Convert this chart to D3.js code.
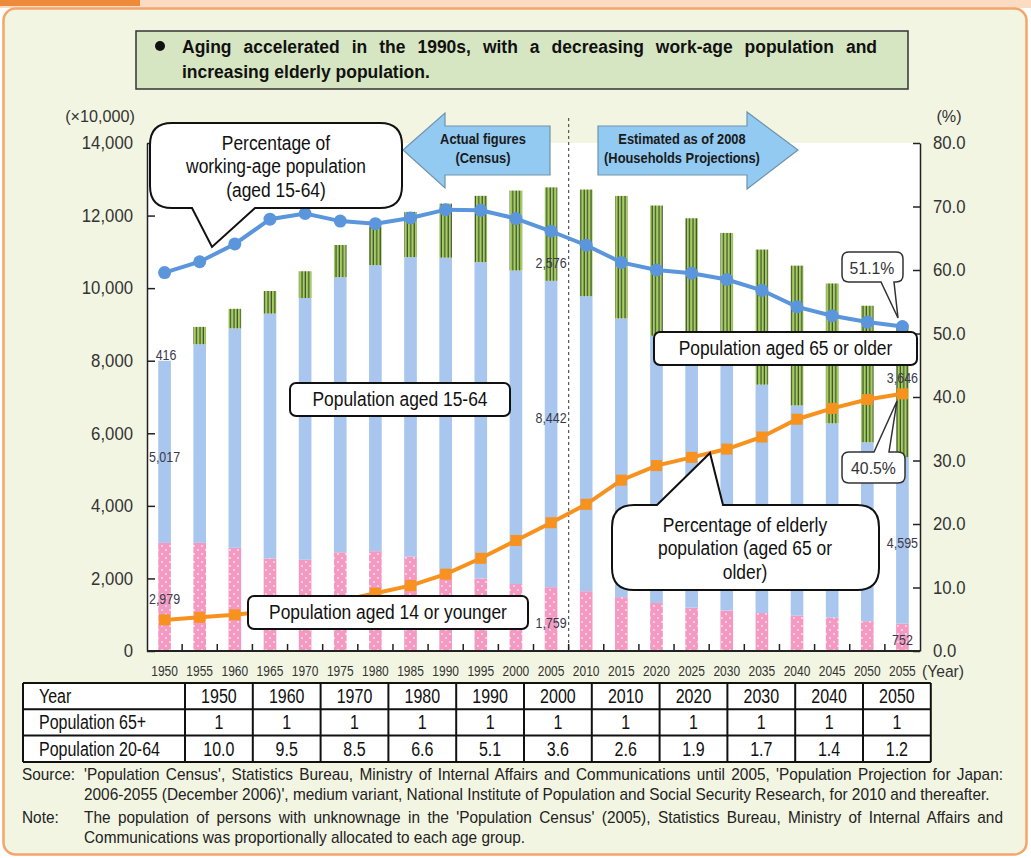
<!DOCTYPE html>
<html>
<head>
<meta charset="utf-8">
<script src="https://cdn.jsdelivr.net/npm/d3@7/dist/d3.min.js"></script>
<style>
  html, body { margin: 0; padding: 0; background: #ffffff; }
  svg { display: block; }
  text { font-family: 'Liberation Sans', Arial, sans-serif; }
</style>
</head>
<body>
<svg id="chart" width="1031" height="858"></svg>
<script>
// Japanese population by age group, 1950-2055 (unit: 10,000 persons)
const years = [1950,1955,1960,1965,1970,1975,1980,1985,1990,1995,2000,2005,
               2010,2015,2020,2025,2030,2035,2040,2045,2050,2055];
const pop0to14 = [2979,2980,2843,2553,2515,2722,2751,2603,2249,2001,1847,1759,
                  1648,1484,1324,1195,1115,1047,980,920,821,752];
const pop15to64 = [5017,5473,6047,6744,7212,7581,7883,8251,8590,8717,8638,8442,
                   8128,7680,7363,7096,6740,6292,5787,5353,4930,4595];
const pop65plus = [416,479,540,624,739,887,1065,1247,1489,1826,2204,2576,
                   2941,3378,3590,3635,3667,3725,3853,3856,3764,3646];
// Shares of total population (%)
const workingAgePct = [59.6,61.3,64.1,68.0,68.9,67.7,67.3,68.2,69.5,69.4,68.1,66.1,
                       63.9,61.2,60.0,59.5,58.5,56.8,54.2,52.8,51.8,51.1];
const elderlyPct = [4.9,5.3,5.7,6.3,7.1,7.9,9.1,10.3,12.1,14.6,17.4,20.2,
                    23.1,26.9,29.2,30.5,31.8,33.7,36.5,38.2,39.6,40.5];
// Axis ticks
const leftTicks = [0,2000,4000,6000,8000,10000,12000,14000];
const rightTicks = [0,10,20,30,40,50,60,70,80];
// Support ratio table
const tableYears = [1950,1960,1970,1980,1990,2000,2010,2020,2030,2040,2050];
const ratio65 = [1,1,1,1,1,1,1,1,1,1,1];
const ratio20to64 = ["10.0","9.5","8.5","6.6","5.1","3.6","2.6","1.9","1.7","1.4","1.2"];
// Bars whose segment values are printed
const labelledYears = [1950, 2005, 2055];

const svg = d3.select("#chart");
const W = 1031, H = 858;
const dark = "#333333";

// horizontally condense text (the layout uses a narrow type face)
function squeeze(sel, k) {
  sel.each(function () {
    const t = d3.select(this);
    const x0 = +t.attr("x") || 0;
    t.attr("transform", `translate(${x0},0) scale(${k},1) translate(${-x0},0)`);
  });
}
// stretch the gaps between words so a condensed line spans `width` pixels
function justify(textSel, k, width) {
  const node = textSel.node();
  const len = node.getComputedTextLength();
  const gaps = (textSel.text().match(/ /g) || []).length;
  if (gaps) textSel.attr("word-spacing", (width / k - len) / gaps);
}

// ---------- panel ----------
svg.append("rect").attr("width", W).attr("height", H).attr("fill", "#ffffff");
svg.append("rect").attr("x", 0).attr("y", 0).attr("width", W).attr("height", 8).attr("fill", "#fbdcc2");
svg.append("rect").attr("x", 0).attr("y", 0).attr("width", 140).attr("height", 6).attr("fill", "#ee8a3c");
svg.append("rect").attr("x", 3.5).attr("y", 8.5).attr("width", 1023).attr("height", 846)
  .attr("rx", 12).attr("fill", "#f2f5e2").attr("stroke", "#f4a56c").attr("stroke-width", 2.5);

// ---------- scales ----------
const plot = {left: 147, right: 920, top: 143, bottom: 651};
const x = d3.scaleBand().domain(years).range([plot.left, plot.right])
  .paddingInner(0.64).paddingOuter(0.32);
const yL = d3.scaleLinear().domain([0, 14000]).range([plot.bottom, plot.top]);
const yR = d3.scaleLinear().domain([0, 80]).range([plot.bottom, plot.top]);
const cx = d => x(d) + x.bandwidth() / 2;

svg.append("rect").attr("x", plot.left).attr("y", plot.top)
  .attr("width", plot.right - plot.left).attr("height", plot.bottom - plot.top).attr("fill", "#ffffff");

// ---------- patterns ----------
const defs = svg.append("defs");
const dots = defs.append("pattern").attr("id", "dots").attr("patternUnits", "userSpaceOnUse")
  .attr("width", 8).attr("height", 8);
dots.append("rect").attr("width", 8).attr("height", 8).attr("fill", "#f49ac2");
dots.append("circle").attr("cx", 2).attr("cy", 2).attr("r", 0.9).attr("fill", "#fde8f1");
dots.append("circle").attr("cx", 6).attr("cy", 6).attr("r", 0.9).attr("fill", "#fde8f1");
const stripes = defs.append("pattern").attr("id", "stripes").attr("patternUnits", "userSpaceOnUse")
  .attr("width", 3.4).attr("height", 10);
stripes.append("rect").attr("width", 3.4).attr("height", 10).attr("fill", "#a5cf5a");
stripes.append("rect").attr("x", 2.2).attr("width", 1.2).attr("height", 10).attr("fill", "#3e4c3c");

// ---------- stacked bars ----------
const rows = years.map((yr, i) => ({year: yr, p0: pop0to14[i], p15: pop15to64[i], p65: pop65plus[i]}));
const stack = d3.stack().keys(["p0", "p15", "p65"])(rows);
const fills = {p0: "url(#dots)", p15: "#a9c6ee", p65: "url(#stripes)"};
svg.append("g").selectAll("g").data(stack).join("g")
  .attr("fill", s => fills[s.key])
  .selectAll("rect").data(s => s).join("rect")
  .attr("x", d => x(d.data.year))
  .attr("width", x.bandwidth())
  .attr("y", d => yL(d[1]))
  .attr("height", d => yL(d[0]) - yL(d[1]));

// ---------- value labels on the first, 2005 and last bars ----------
const seg = (key, year) => stack.find(t => t.key === key)[years.indexOf(year)];
const fmt = d3.format(",");
const labelG = svg.append("g").attr("font-size", 14.5).attr("fill", "#3a3a4a");
// 1950: the 65+ value sits on a white tag over its own segment
{
  const s = seg("p65", 1950);
  labelG.append("rect").attr("x", cx(1950) - 7).attr("y", yL(s[1]) - 1)
    .attr("width", 17).attr("height", yL(s[0]) - yL(s[1]) + 1).attr("fill", "#ffffff");
}
const valueLabels = [];
labelledYears.forEach(yr => {
  const i = years.indexOf(yr);
  const s0 = seg("p0", yr), s15 = seg("p15", yr), s65 = seg("p65", yr);
  // baseline positions for each segment's number
  const pos = {
    1950: [yL(s0[1]) + 61, yL((s15[0] + s15[1]) / 2) + 10, yL(s65[1]) + 14],
    2005: [yL(s0[1]) + 41, yL((s15[0] + s15[1]) / 2) - 11, yL(s65[0]) - 13],
    2055: [yL(s0[1]) + 21, yL((s15[0] + s15[1]) / 2) + 8, yL(s65[1]) + 58]
  }[yr];
  const dx = yr === 1950 ? 1.5 : 0;
  valueLabels.push({x: cx(yr), y: pos[0], t: fmt(pop0to14[i])});
  valueLabels.push({x: cx(yr), y: pos[1], t: fmt(pop15to64[i])});
  valueLabels.push({x: cx(yr) + dx, y: pos[2], t: fmt(pop65plus[i])});
});
labelG.selectAll("text").data(valueLabels).join("text")
  .attr("x", d => d.x).attr("y", d => d.y).attr("text-anchor", "middle").text(d => d.t)
  .call(squeeze, 0.86);

// ---------- dashed separator between census and projection ----------
const sepX = (x(2005) + x(2010) + x.bandwidth()) / 2;
svg.append("line").attr("x1", sepX).attr("x2", sepX).attr("y1", 118).attr("y2", plot.bottom)
  .attr("stroke", "#555").attr("stroke-width", 1.2).attr("stroke-dasharray", "3,3");

// ---------- axes ----------
const axL = svg.append("g").attr("transform", `translate(${plot.left},0)`)
  .call(d3.axisLeft(yL).tickValues(leftTicks).tickFormat(d3.format(",")).tickSizeInner(-8).tickSizeOuter(0).tickPadding(14));
const axR = svg.append("g").attr("transform", `translate(${plot.right},0)`)
  .call(d3.axisRight(yR).tickValues(rightTicks).tickFormat(d3.format(".1f")).tickSizeInner(-7).tickSizeOuter(0).tickPadding(13));
[axL, axR].forEach(a => {
  a.select(".domain").attr("stroke", "#222").attr("stroke-width", 1.5);
  a.selectAll(".tick line").attr("stroke", "#222").attr("stroke-width", 1.5);
  a.selectAll(".tick text").attr("font-size", 18).attr("fill", dark)
    .style("font-family", "'Liberation Sans', Arial, sans-serif").call(squeeze, 0.93);
});
svg.append("text").attr("x", 100).attr("y", 122).attr("text-anchor", "middle")
  .attr("font-size", 17).attr("fill", dark).text("(×10,000)").call(squeeze, 0.95);
svg.append("text").attr("x", 949).attr("y", 122).attr("text-anchor", "middle")
  .attr("font-size", 17).attr("fill", dark).text("(%)").call(squeeze, 0.95);

// bottom axis: ticks at the band boundaries, year labels at band centres
const axB = svg.append("g");
axB.append("line").attr("x1", plot.left).attr("x2", plot.right).attr("y1", plot.bottom).attr("y2", plot.bottom)
  .attr("stroke", "#222").attr("stroke-width", 1.8);
axB.selectAll("line.tk").data(years.slice(1)).join("line").attr("class", "tk")
  .attr("x1", d => x(d) - x.step() * x.paddingInner() / 2)
  .attr("x2", d => x(d) - x.step() * x.paddingInner() / 2)
  .attr("y1", plot.bottom).attr("y2", plot.bottom - 7).attr("stroke", "#222").attr("stroke-width", 1.5);
axB.selectAll("text").data(years).join("text")
  .attr("x", d => cx(d)).attr("y", 676).attr("text-anchor", "middle")
  .attr("font-size", 15).attr("fill", dark).text(d => d).call(squeeze, 0.8);
svg.append("text").attr("x", 922).attr("y", 677).attr("font-size", 17).attr("fill", dark)
  .text("(Year)").call(squeeze, 0.92);

// ---------- percentage lines ----------
const pctLine = d3.line().x((d, i) => cx(years[i])).y(d => yR(d));
svg.append("path").datum(workingAgePct).attr("d", pctLine)
  .attr("fill", "none").attr("stroke", "#5b96dc").attr("stroke-width", 4);
svg.append("g").selectAll("circle").data(workingAgePct).join("circle")
  .attr("cx", (d, i) => cx(years[i])).attr("cy", d => yR(d)).attr("r", 6.5).attr("fill", "#5b96dc");

svg.append("path").datum(elderlyPct).attr("d", pctLine)
  .attr("fill", "none").attr("stroke", "#f7921e").attr("stroke-width", 4);
svg.append("g").selectAll("rect").data(elderlyPct).join("rect")
  .attr("x", (d, i) => cx(years[i]) - 5.5).attr("y", d => yR(d) - 5.5)
  .attr("width", 11).attr("height", 11).attr("fill", "#f7921e");

// ---------- period arrows ----------
const arrowFill = "#92caf2", arrowStroke = "#6f93ab";
svg.append("path")
  .attr("d", "M403,150 L445,113 L445,126 L550,126 L550,175 L445,175 L445,188 Z")
  .attr("fill", arrowFill).attr("stroke", arrowStroke).attr("stroke-width", 1.2);
svg.append("path")
  .attr("d", "M598,126 L747,126 L747,112 L798,150 L747,189 L747,175 L598,175 Z")
  .attr("fill", arrowFill).attr("stroke", arrowStroke).attr("stroke-width", 1.2);
const arrowText = [
  {x: 483, y: 144, t: "Actual figures"}, {x: 483, y: 163, t: "(Census)"},
  {x: 682, y: 144, t: "Estimated as of 2008"}, {x: 682, y: 163, t: "(Households Projections)"}
];
svg.append("g").selectAll("text").data(arrowText).join("text")
  .attr("x", d => d.x).attr("y", d => d.y).attr("text-anchor", "middle")
  .attr("font-size", 14).attr("font-weight", "bold").attr("fill", "#1a1a1a").text(d => d.t)
  .call(squeeze, 0.92);

// ---------- callouts ----------
// rounded box with a pointed tail leaving its top or bottom edge
function callout(x0, y0, x1, y1, r, tail) {
  const p = d3.path();
  p.moveTo(x0 + r, y0);
  if (tail && tail.side === "top") { p.lineTo(tail.a, y0); p.lineTo(tail.tx, tail.ty); p.lineTo(tail.b, y0); }
  p.lineTo(x1 - r, y0);
  p.quadraticCurveTo(x1, y0, x1, y0 + r);
  p.lineTo(x1, y1 - r);
  p.quadraticCurveTo(x1, y1, x1 - r, y1);
  if (tail && tail.side === "bottom") { p.lineTo(tail.b, y1); p.lineTo(tail.tx, tail.ty); p.lineTo(tail.a, y1); }
  p.lineTo(x0 + r, y1);
  p.quadraticCurveTo(x0, y1, x0, y1 - r);
  p.lineTo(x0, y0 + r);
  p.quadraticCurveTo(x0, y0, x0 + r, y0);
  p.closePath();
  return p.toString();
}
const boxStyle = g => g.attr("fill", "#ffffff").attr("stroke", "#111").attr("stroke-width", 2);

svg.append("path").attr("d", callout(150, 123, 402, 208, 22, {side: "bottom", a: 192, b: 255, tx: 212, ty: 247})).call(boxStyle);
svg.append("path").attr("d", callout(612, 505, 879, 590, 22, {side: "top", a: 657, b: 723, tx: 710, ty: 453})).call(boxStyle);
svg.append("path").attr("d", callout(842, 252, 903, 282, 7, {side: "bottom", a: 881, b: 894, tx: 898, ty: 318}))
  .attr("fill", "#ffffff").attr("stroke", "#333").attr("stroke-width", 1.5);
svg.append("path").attr("d", callout(842, 452, 905, 483, 7, {side: "top", a: 874, b: 889, tx: 897, ty: 401}))
  .attr("fill", "#ffffff").attr("stroke", "#333").attr("stroke-width", 1.5);

const plainBoxes = [
  {x0: 290, y0: 383, x1: 510, y1: 416, t: "Population aged 15-64"},
  {x0: 248, y0: 596, x1: 528, y1: 629, t: "Population aged 14 or younger"},
  {x0: 654, y0: 332, x1: 917, y1: 365, t: "Population aged 65 or older"}
];
plainBoxes.forEach(b => {
  svg.append("rect").attr("x", b.x0).attr("y", b.y0).attr("width", b.x1 - b.x0).attr("height", b.y1 - b.y0)
    .attr("rx", 6).call(boxStyle);
  svg.append("text").attr("x", (b.x0 + b.x1) / 2).attr("y", (b.y0 + b.y1) / 2 + 7).attr("text-anchor", "middle")
    .attr("font-size", 20).attr("fill", "#111").text(b.t).call(squeeze, 0.87);
});

const calloutText = [
  {x: 276, y: 150, t: "Percentage of"}, {x: 276, y: 173, t: "working-age population"}, {x: 276, y: 197, t: "(aged 15-64)"},
  {x: 745, y: 532, t: "Percentage of elderly"}, {x: 745, y: 555, t: "population (aged 65 or"}, {x: 745, y: 579, t: "older)"}
];
svg.append("g").selectAll("text").data(calloutText).join("text")
  .attr("x", d => d.x).attr("y", d => d.y).attr("text-anchor", "middle")
  .attr("font-size", 20).attr("fill", "#111").text(d => d.t).call(squeeze, 0.87);
svg.append("text").attr("x", 872).attr("y", 274).attr("text-anchor", "middle").attr("font-size", 17)
  .attr("fill", "#333").text(workingAgePct[workingAgePct.length - 1].toFixed(1) + "%").call(squeeze, 0.93);
svg.append("text").attr("x", 873.5).attr("y", 474).attr("text-anchor", "middle").attr("font-size", 17)
  .attr("fill", "#333").text(elderlyPct[elderlyPct.length - 1].toFixed(1) + "%").call(squeeze, 0.93);

// ---------- headline ----------
svg.append("rect").attr("x", 136).attr("y", 31).attr("width", 772).attr("height", 58)
  .attr("fill", "#d6e6c2").attr("stroke", "#333").attr("stroke-width", 1.5);
svg.append("circle").attr("cx", 160).attr("cy", 46).attr("r", 5).attr("fill", "#111");
const head1 = svg.append("text").attr("x", 182).attr("y", 53).attr("font-size", 19).attr("font-weight", "bold")
  .attr("fill", "#111").text("Aging accelerated in the 1990s, with a decreasing work-age population and");
const head2 = svg.append("text").attr("x", 182).attr("y", 78).attr("font-size", 19).attr("font-weight", "bold")
  .attr("fill", "#111").text("increasing elderly population.");
const kHead = 248 / head2.node().getComputedTextLength();
head1.call(squeeze, kHead); head2.call(squeeze, kHead);
justify(head1, kHead, 695);

// ---------- support ratio table ----------
const tbl = {x0: 23, firstW: 162, colW: 67.8, y0: 683, rowH: 26.3};
const tableRows = [
  {label: "Year", vals: tableYears},
  {label: "Population 65+", vals: ratio65},
  {label: "Population 20-64", vals: ratio20to64}
];
const tg = svg.append("g");
const tblW = tbl.firstW + tbl.colW * tableYears.length;
tg.append("rect").attr("x", tbl.x0).attr("y", tbl.y0).attr("width", tblW).attr("height", tbl.rowH * 3)
  .attr("fill", "#ffffff");
tableRows.forEach((r, ri) => {
  const yy = tbl.y0 + tbl.rowH * ri + tbl.rowH / 2 + 7;
  tg.append("text").attr("x", tbl.x0 + 16).attr("y", yy).attr("font-size", 20).attr("fill", "#111").text(r.label);
  r.vals.forEach((v, ci) => {
    tg.append("text").attr("x", tbl.x0 + tbl.firstW + tbl.colW * (ci + 0.5)).attr("y", yy)
      .attr("text-anchor", "middle").attr("font-size", 20).attr("fill", "#111").text(v);
  });
});
tg.selectAll("text").call(squeeze, 0.8);
for (let i = 0; i <= 3; i++) {
  tg.append("line").attr("x1", tbl.x0).attr("x2", tbl.x0 + tblW)
    .attr("y1", tbl.y0 + tbl.rowH * i).attr("y2", tbl.y0 + tbl.rowH * i).attr("stroke", "#111").attr("stroke-width", 2);
}
for (let i = 0; i <= tableYears.length + 1; i++) {
  const xx = i === 0 ? tbl.x0 : tbl.x0 + tbl.firstW + tbl.colW * (i - 1);
  tg.append("line").attr("x1", xx).attr("x2", xx).attr("y1", tbl.y0).attr("y2", tbl.y0 + tbl.rowH * 3)
    .attr("stroke", "#111").attr("stroke-width", 2);
}

// ---------- source and note ----------
const notes = [
  {x: 22, y: 780, t: "Source:"},
  {x: 84, y: 780, t: "'Population Census', Statistics Bureau, Ministry of Internal Affairs and Communications until 2005, 'Population Projection for Japan:", just: true},
  {x: 84, y: 800, t: "2006-2055 (December 2006)', medium variant, National Institute of Population and Social Security Research, for 2010 and thereafter.", ref: true},
  {x: 22, y: 823, t: "Note:"},
  {x: 84, y: 823, t: "The population of persons with unknownage in the 'Population Census' (2005), Statistics Bureau, Ministry of Internal Affairs and", just: true},
  {x: 84, y: 843, t: "Communications was proportionally allocated to each age group."}
];
const noteSel = notes.map(n => svg.append("text").attr("x", n.x).attr("y", n.y).attr("font-size", 17)
  .attr("fill", "#222").text(n.t));
const kNote = 906 / noteSel[notes.findIndex(n => n.ref)].node().getComputedTextLength();
noteSel.forEach((s, i) => {
  s.call(squeeze, kNote);
  if (notes[i].just) justify(s, kNote, 919);
});
</script>
</body>
</html>
